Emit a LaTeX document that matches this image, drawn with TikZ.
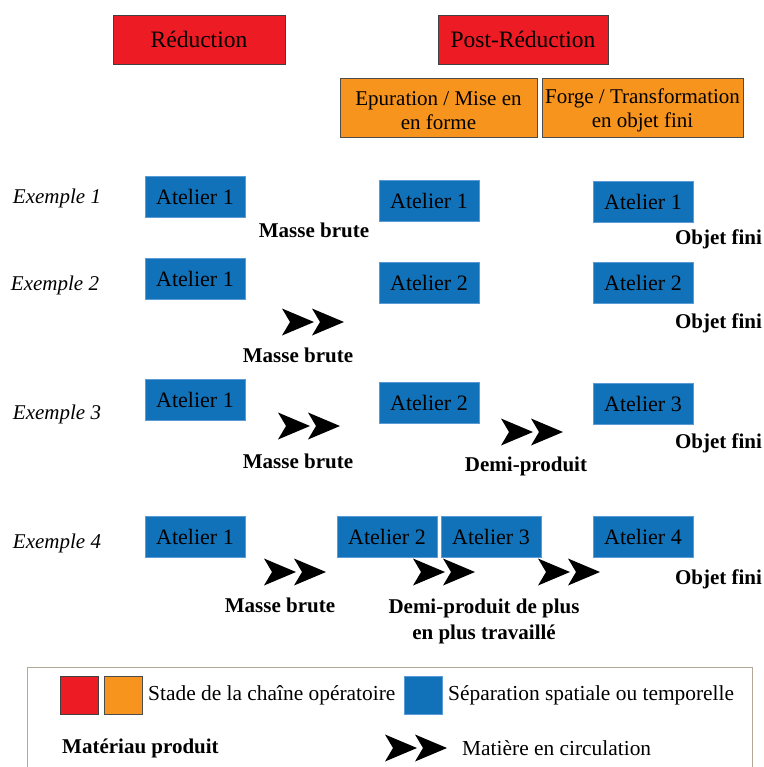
\documentclass[tikz,border=0pt]{standalone}
\usepackage{fontspec}
\setmainfont{Liberation Serif}
\definecolor{redc}{HTML}{ED1C24}
\definecolor{orc}{HTML}{F7941D}
\definecolor{bluec}{HTML}{1172BA}
\definecolor{blueb}{HTML}{5B9BD5}
\definecolor{legb}{HTML}{B4A898}
\begin{document}
\begin{tikzpicture}[x=1pt,y=-1pt,
  stage/.style={draw=black!75, line width=0.8pt, fill=redc, inner sep=0pt,
    minimum height=49pt, font=\fontsize{23.5}{26}\selectfont},
  substage/.style={draw=black!70, line width=0.8pt, fill=orc, inner sep=0pt,
    minimum height=59pt},
  subtxt/.style={inner sep=0pt, align=center, font=\fontsize{21}{24.5}\selectfont},
  atel/.style={draw=blueb, line width=0.6pt, fill=bluec, inner sep=0pt,
    minimum width=100pt, minimum height=41pt, font=\fontsize{22}{24}\selectfont},
  mat/.style={font=\fontsize{21}{26}\selectfont\bfseries, align=center, inner sep=0pt},
  ex/.style={font=\fontsize{21}{24}\selectfont\itshape, inner sep=0pt},
  legtxt/.style={font=\fontsize{21.4}{24}\selectfont, inner sep=0pt, anchor=west},
  legsq/.style={line width=0.8pt, inner sep=0pt, minimum size=38pt, anchor=north west},
  dblarrow/.pic={
    \fill[black] (-31,-13.5) .. controls (-15,-6) .. (1,0) .. controls (-15,6) .. (-31,13.5) -- (-23,0) -- cycle;
    \fill[black] (-1,-13.5) .. controls (15,-6) .. (31,0) .. controls (15,6) .. (-1,13.5) -- (7,0) -- cycle;
  }]
\useasboundingbox (0,0) rectangle (763,767);

% header stages
\node[stage, minimum width=172pt] (red) at (199,39.5) {Réduction};
\node[stage, minimum width=170pt] (post) at (523,39.5) {Post-Réduction};
\node[substage, minimum width=197pt] (epu) at (438.5,107.5) {};
\node[subtxt] (epuT) at ([yshift=-3pt]epu.center) {Epuration / Mise en\\en forme};
\node[substage, minimum width=201pt] (forge) at (642.5,107.5) {};
\node[subtxt] (forgeT) at ([yshift=-3pt]forge.center) {Forge / Transformation\\en objet fini};

% example labels
\node[ex] (ex1) at (57,198) {Exemple 1};
\node[ex] (ex2) at (55,285) {Exemple 2};
\node[ex] (ex3) at (57,414) {Exemple 3};
\node[ex] (ex4) at (57,543) {Exemple 4};

% row 1
\node[atel] (a11) at (195,196.5) {Atelier 1};
\node[atel] (a12) at (429,201) {Atelier 1};
\node[atel] (a13) at (643,201.5) {Atelier 1};
\node[mat] (m1) at (314,230) {Masse brute};
\node[mat] (o1) at (718.5,239) {Objet fini};

% row 2
\node[atel] (a21) at (195,279) {Atelier 1};
\node[atel] (a22) at (429,282.5) {Atelier 2};
\node[atel] (a23) at (643,282.5) {Atelier 2};
\pic at (313,322) {dblarrow};
\node[mat] (m2) at (298,355) {Masse brute};
\node[mat] (o2) at (718.5,323) {Objet fini};

% row 3
\node[atel] (a31) at (195,399.5) {Atelier 1};
\node[atel] (a32) at (429,402.5) {Atelier 2};
\node[atel] (a33) at (643,403.5) {Atelier 3};
\pic at (309,426) {dblarrow};
\pic at (532,432) {dblarrow};
\node[mat] (m3) at (298,461) {Masse brute};
\node[mat] (d3) at (526,466) {Demi-produit};
\node[mat] (o3) at (718.5,443) {Objet fini};

% row 4
\node[atel] (a41) at (195,536.5) {Atelier 1};
\node[atel] (a42) at (387,536.5) {Atelier 2};
\node[atel] (a43) at (491,536.5) {Atelier 3};
\node[atel] (a44) at (643,536.5) {Atelier 4};
\pic at (295,572) {dblarrow};
\pic at (444,572) {dblarrow};
\pic at (569,572) {dblarrow};
\node[mat] (m4) at (280,605) {Masse brute};
\node[mat] (d4) at (484,621) {Demi-produit de plus\\en plus travaillé};
\node[mat] (o4) at (718.5,579) {Objet fini};

% legend
\draw[legb, line width=1pt] (27,767) -- (27,667) -- (752,667) -- (752,767);
\node[legsq, draw=black!75, fill=redc] (lr) at (60,676) {};
\node[legsq, draw=black!70, fill=orc] (lo) at (104,676) {};
\node[legtxt] (lt1) at (148,695) {Stade de la chaîne opératoire};
\node[legsq, draw=blueb, fill=bluec] (lb) at (404,676) {};
\node[legtxt] (lt2) at (448,695) {Séparation spatiale ou temporelle};
\node[legtxt, font=\fontsize{21}{24}\selectfont\bfseries] (lt3) at (62,748) {Matériau produit};
\pic at (416,748) {dblarrow};
\node[legtxt] (lt4) at (462,748) {Matière en circulation};
\end{tikzpicture}
\end{document}
